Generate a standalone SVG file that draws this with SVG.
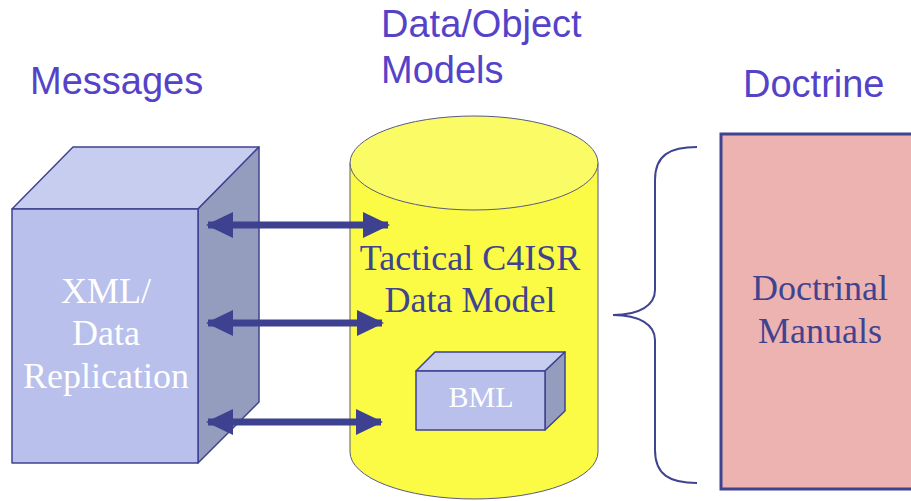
<svg xmlns="http://www.w3.org/2000/svg" width="911" height="501" viewBox="0 0 911 501">
  <style>
    .head { font-family: "Liberation Sans", Arial, sans-serif; font-size: 38px; fill: #5443c9; }
    .serif { font-family: "Liberation Serif", "Times New Roman", serif; text-anchor: middle; font-size: 36px; }
    .small { font-size: 30px; }
    .edge { stroke: #3f4390; stroke-width: 1.5; stroke-linejoin: round; }
    .front { fill: #b8c0eb; }
    .top { fill: #c6cdef; }
    .side { fill: #959dbe; }
    .link { stroke: #3d4190; stroke-width: 7; fill: none; marker-start: url(#head); marker-end: url(#head); }
  </style>
  <defs>
    <marker id="head" viewBox="0 0 27 26" refX="25" refY="13" markerWidth="27" markerHeight="26" markerUnits="userSpaceOnUse" orient="auto-start-reverse">
      <path d="M0,0 L27,13 L0,26 Z" fill="#3d4190"/>
    </marker>
  </defs>
  <rect width="911" height="501" fill="#ffffff"/>

  <!-- headings -->
  <text class="head" x="30" y="94">Messages</text>
  <text class="head" x="381" y="37">Data/Object</text>
  <text class="head" x="381" y="83">Models</text>
  <text class="head" x="743" y="97">Doctrine</text>

  <!-- messages block -->
  <g id="messages">
    <path class="top edge" d="M12,209 L73,147 L259,147 L198,209 Z"/>
    <path class="side edge" d="M198,209 L259,147 L259,402 L198,463 Z"/>
    <rect class="front edge" x="12" y="209" width="186" height="254"/>
    <text class="serif" x="106" y="303" fill="#ffffff">XML/</text>
    <text class="serif" x="106" y="345" fill="#ffffff">Data</text>
    <text class="serif" x="106" y="388" fill="#ffffff">Replication</text>
  </g>

  <!-- data model cylinder -->
  <g id="data-model">
    <path d="M350,163 L350,452 A124,47 0 0 0 598,452 L598,163 Z" fill="#fbfb45" stroke="#5a5a80" stroke-width="1"/>
    <ellipse cx="474" cy="163" rx="124" ry="47" fill="#fbfb66" stroke="#5a5a80" stroke-width="1"/>
    <text class="serif" x="470" y="270" fill="#3f4390">Tactical C4ISR</text>
    <text class="serif" x="470" y="312" fill="#3f4390">Data Model</text>
  </g>

  <!-- BML block inside the data model -->
  <g id="bml">
    <path class="top edge" d="M416,371 L435,352 L565,352 L545,371 Z"/>
    <path class="side edge" d="M545,371 L565,352 L565,411 L545,430 Z"/>
    <rect class="front edge" x="416" y="371" width="129" height="59"/>
    <text class="serif small" x="481" y="407" fill="#ffffff">BML</text>
  </g>

  <!-- doctrine block -->
  <g id="doctrine">
    <rect x="721" y="134" width="195" height="355" fill="#edb3b0" stroke="#3f4390" stroke-width="3"/>
    <text class="serif" x="820" y="300" fill="#3f4390">Doctrinal</text>
    <text class="serif" x="820" y="343" fill="#3f4390">Manuals</text>
  </g>

  <!-- connectors -->
  <g id="connectors">
    <line class="link" x1="208" y1="225" x2="388" y2="225"/>
    <line class="link" x1="208" y1="323" x2="382" y2="323"/>
    <line class="link" x1="208" y1="422" x2="381" y2="422"/>
    <path d="M697,147 C670,147 655,155 655,180 L655,290 C655,305 640,315 613,315 C640,315 655,325 655,340 L655,450 C655,475 670,483 697,483" fill="none" stroke="#3f4390" stroke-width="2"/>
  </g>
</svg>
